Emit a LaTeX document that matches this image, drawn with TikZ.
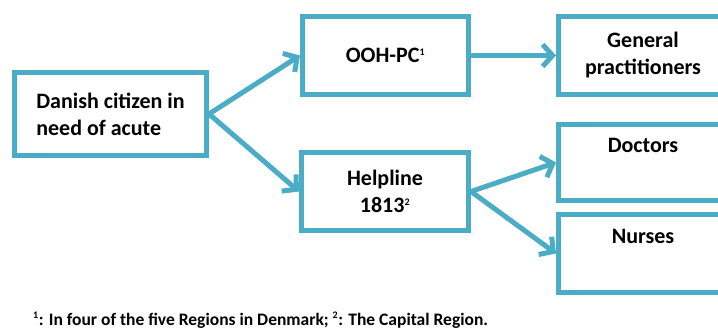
\documentclass[tikz,border=0pt]{standalone}
\usepackage{fontspec}
\setmainfont{Carlito}
\usepackage{tikz}
\usetikzlibrary{arrows.meta}
\definecolor{aqua}{HTML}{4BACC6}
\newcommand{\Sup}[1]{\textsuperscript{\fontsize{10}{10}\selectfont #1}}

\begin{document}
\begin{tikzpicture}[
  x=1pt,y=-1pt,
  box/.style={draw=aqua,line width=5pt,fill=white,align=center,inner sep=0pt,font=\bfseries\fontsize{22}{27}\selectfont},
  flow/.style={-{Straight Barb[length=10pt,width=22pt]},line width=5pt,color=aqua},
  note/.style={font=\bfseries\fontsize{17.5}{20}\selectfont,inner sep=0pt}
]
\clip (0,0) rectangle (718,329);
\node[box,align=left,minimum width=192pt,minimum height=82pt] (citizen) at (110.5,114) {Danish citizen in\\need of acute};
\node[box,minimum width=166pt,minimum height=78pt] (ooh) at (385.5,55.5) {OOH-PC\Sup{1}};
\node[box,minimum width=167pt,minimum height=78pt] (helpline) at (385,191.5) {Helpline\\1813\Sup{2}};
\node[box,minimum width=169pt,minimum height=78pt] (gp) at (643,55.5) {General\\practitioners};
\node[box,minimum width=169pt,minimum height=76pt] (doctors) at (643,162.5) {Doctors\\\strut};
\node[box,minimum width=169pt,minimum height=78pt] (nurses) at (643,253.5) {Nurses\\\strut};
\node[note,anchor=base west] (footnote) at (33,325) {\Sup{1}: In four of the five Regions in Denmark; \Sup{2}: The Capital Region.};
\draw[flow] (citizen.east) -- (ooh.west);
\draw[flow] (citizen.east) -- (helpline.west);
\draw[flow] (ooh.east) -- (gp.west);
\draw[flow] (helpline.east) -- (doctors.west);
\draw[flow] (helpline.east) -- (nurses.west);
\end{tikzpicture}
\end{document}
